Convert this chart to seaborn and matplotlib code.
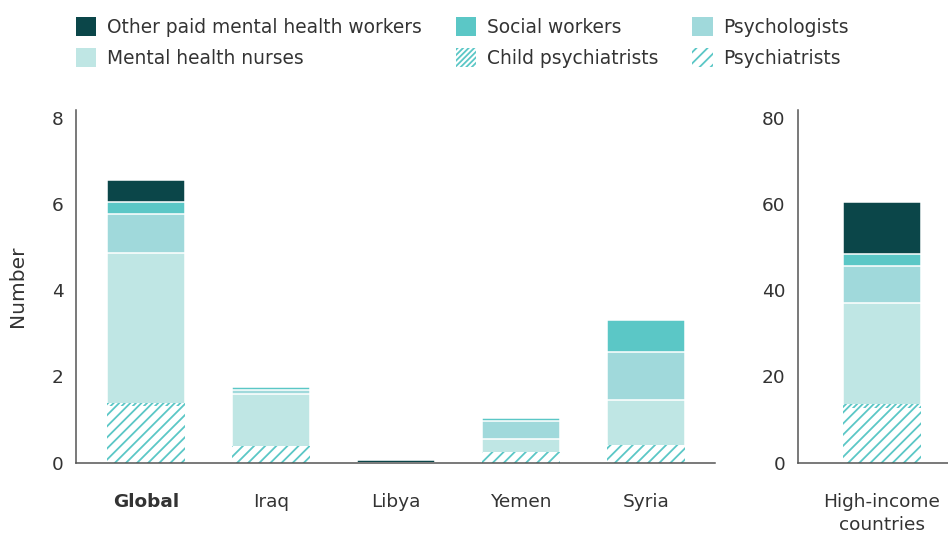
import matplotlib
matplotlib.use("Agg")
import matplotlib.pyplot as plt
import seaborn as sns
import pandas as pd
import numpy as np
from matplotlib.patches import Patch

# ---------------- data ----------------
categories = ["Global", "Iraq", "Libya", "Yemen", "Syria"]
psychiatrists = [1.32, 0.39, 0.0, 0.25, 0.42]
child_psychiatrists = [0.07, 0.0, 0.0, 0.0, 0.0]
mental_health_nurses = [3.48, 1.20, 0.0, 0.30, 1.04]
psychologists = [0.90, 0.10, 0.0, 0.42, 1.10]
social_workers = [0.28, 0.07, 0.0, 0.06, 0.75]
other_workers = [0.51, 0.0, 0.07, 0.0, 0.0]

hic_categories = ["High-income\ncountries"]
hic_psychiatrists = [12.6]
hic_child_psychiatrists = [0.9]
hic_mental_health_nurses = [23.6]
hic_psychologists = [8.6]
hic_social_workers = [2.6]
hic_other_workers = [12.2]

left_ticks = [0, 2, 4, 6, 8]
right_ticks = [0, 20, 40, 60, 80]

# ---------------- style ----------------
sns.set_theme(style="white")
plt.rcParams["font.family"] = ["DejaVu Sans"]
plt.rcParams["hatch.linewidth"] = 1.3
TEXT = "#333333"
HATCH = "#5bc7c6"
FS = 13.3

layers = [  # bottom -> top : (name, color, hatch)
    ("Psychiatrists", None, "///"),
    ("Child psychiatrists", None, "//////"),
    ("Mental health nurses", "#bfe6e4", None),
    ("Psychologists", "#a0d9db", None),
    ("Social workers", "#5bc7c6", None),
    ("Other paid mental health workers", "#0b4649", None),
]

W, H = 948, 534
fig = plt.figure(figsize=(W / 100, H / 100), dpi=100)
ax1 = fig.add_axes([76 / W, 1 - 462.7 / H, 639 / W, 352.7 / H])
ax2 = fig.add_axes([798 / W, 1 - 462.7 / H, 150 / W, 352.7 / H])

BAR_W = 0.63


def draw(ax, cats, layer_values):
    cum = np.cumsum(np.array(layer_values, dtype=float), axis=0)
    for i in reversed(range(len(layers))):
        name, color, hatch = layers[i]
        df = pd.DataFrame({"cat": cats, "val": cum[i]})
        if hatch:
            sns.barplot(data=df, x="cat", y="val", order=cats, ax=ax,
                        color="white", saturation=1, width=BAR_W,
                        errorbar=None, edgecolor=HATCH, linewidth=0,
                        hatch=hatch)
        else:
            sns.barplot(data=df, x="cat", y="val", order=cats, ax=ax,
                        color=color, saturation=1, width=BAR_W,
                        errorbar=None, edgecolor="white", linewidth=1.1)


draw(ax1, categories, [psychiatrists, child_psychiatrists, mental_health_nurses,
                       psychologists, social_workers, other_workers])
draw(ax2, hic_categories, [hic_psychiatrists, hic_child_psychiatrists,
                           hic_mental_health_nurses, hic_psychologists,
                           hic_social_workers, hic_other_workers])

step = 125.0
ax1.set_xlim((76 - 146) / step, (715 - 146) / step)
ax2.set_xlim((798 - 882) / step, (948 - 882) / step)
ax1.set_ylim(0, 8 * 352.7 / 345)
ax2.set_ylim(0, 80 * 352.7 / 345)
ax1.set_yticks(left_ticks)
ax2.set_yticks(right_ticks)

for ax in (ax1, ax2):
    ax.set_xlabel("")
    ax.set_ylabel("")
    for s in ("top", "right"):
        ax.spines[s].set_visible(False)
    for s in ("left", "bottom"):
        ax.spines[s].set_color("#555555")
        ax.spines[s].set_linewidth(1.1)
    ax.tick_params(axis="y", length=0, pad=9, labelsize=FS, labelcolor=TEXT)
    ax.tick_params(axis="x", length=0, pad=22, labelsize=FS, labelcolor=TEXT)
    ax.grid(False)

for lbl in ax1.get_xticklabels():
    if lbl.get_text() == "Global":
        lbl.set_fontweight("bold")
for lbl in ax2.get_xticklabels():
    lbl.set_linespacing(1.35)

ax1.set_ylabel("Number", fontsize=14.5, color=TEXT, labelpad=18)

# ---------------- legend ----------------
handles = {}
for name, color, hatch in layers:
    if hatch:
        handles[name] = Patch(facecolor="white", edgecolor=HATCH, linewidth=0, hatch=hatch)
    else:
        handles[name] = Patch(facecolor=color, edgecolor="none")
order = ["Other paid mental health workers", "Mental health nurses",
         "Social workers", "Child psychiatrists",
         "Psychologists", "Psychiatrists"]
fig.legend([handles[n] for n in order], order, ncol=3, frameon=False,
           loc="upper left", bbox_to_anchor=(76 / W, 1 - 17 / H),
           borderpad=0, borderaxespad=0, fontsize=13.4,
           handlelength=1.1, handleheight=1.2, handletextpad=0.55,
           columnspacing=1.85, labelspacing=0.6, labelcolor=TEXT)

fig.savefig("out.png", dpi=100)
